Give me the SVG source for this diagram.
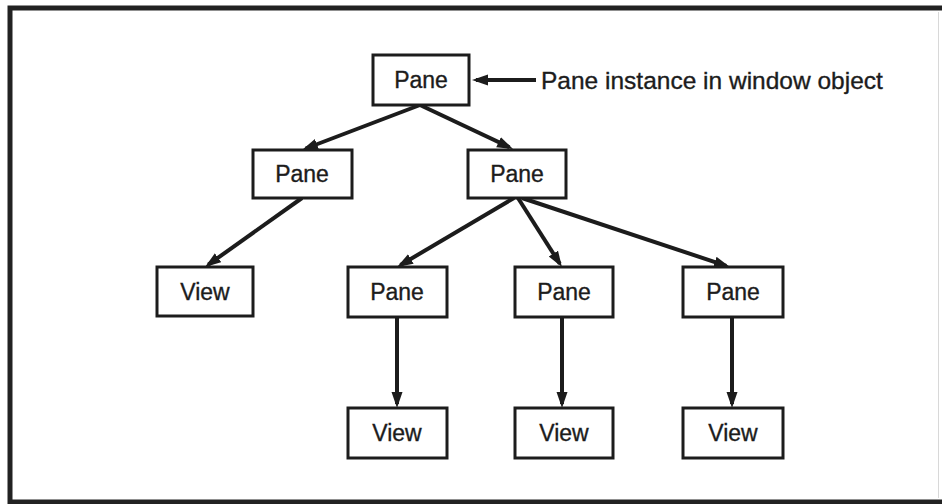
<svg xmlns="http://www.w3.org/2000/svg" width="942" height="504" viewBox="0 0 942 504">
  <style>
    .box { fill: #ffffff; stroke: #1c1c1c; stroke-width: 3; }
    .lbl { font-family: "Liberation Sans", Arial, Helvetica, sans-serif; font-size: 23px; fill: #1c1c1c; stroke: #1c1c1c; stroke-width: 0.35; }
    .note { font-size: 24.5px; }
    .mid { text-anchor: middle; }
    .edge { stroke: #1c1c1c; stroke-width: 4; fill: none; marker-end: url(#head); }
  </style>
  <defs>
    <marker id="head" markerUnits="userSpaceOnUse" markerWidth="17" markerHeight="12" refX="12" refY="5.5" orient="auto">
      <path d="M0,0 L16,5.5 L0,11 Z" fill="#1c1c1c"/>
    </marker>
  </defs>

  <rect width="942" height="504" fill="#ffffff"/>
  <!-- outer frame; its right side runs off the sheet -->
  <path d="M944,8 H10 V502 H944" fill="none" stroke="#222222" stroke-width="5"/>
  <line x1="938.5" y1="12" x2="938.5" y2="498" stroke="#d8d8d8" stroke-width="1"/>

  <!-- connectors -->
  <g id="connectors">
    <line class="edge" x1="536" y1="80" x2="476" y2="80"/>
    <line class="edge" x1="420" y1="105" x2="305.7" y2="148.5"/>
    <line class="edge" x1="420" y1="105" x2="509.4" y2="147.3"/>
    <line class="edge" x1="302" y1="198" x2="208.3" y2="264.7"/>
    <line class="edge" x1="514" y1="198" x2="400.5" y2="265"/>
    <line class="edge" x1="518" y1="198" x2="559.8" y2="263.7"/>
    <line class="edge" x1="522" y1="198" x2="726.2" y2="265.8"/>
    <line class="edge" x1="397" y1="317" x2="397" y2="404"/>
    <line class="edge" x1="562" y1="317" x2="562" y2="404"/>
    <line class="edge" x1="732" y1="317" x2="732" y2="404"/>
  </g>

  <!-- root pane -->
  <g id="pane-root">
    <rect class="box" x="373" y="55" width="96" height="50"/>
    <text class="lbl mid" x="421" y="88">Pane</text>
  </g>
  <g id="note">
    <text class="lbl note" x="541" y="89">Pane instance in window object</text>
  </g>

  <!-- second level -->
  <g id="pane-a">
    <rect class="box" x="253" y="150" width="99" height="48"/>
    <text class="lbl mid" x="302" y="182">Pane</text>
  </g>
  <g id="pane-b">
    <rect class="box" x="468" y="150" width="98" height="48"/>
    <text class="lbl mid" x="517" y="182">Pane</text>
  </g>

  <!-- third level -->
  <g id="view-a">
    <rect class="box" x="157" y="267" width="96" height="49"/>
    <text class="lbl mid" x="205" y="300">View</text>
  </g>
  <g id="pane-b1">
    <rect class="box" x="348" y="267" width="99" height="50"/>
    <text class="lbl mid" x="397" y="300">Pane</text>
  </g>
  <g id="pane-b2">
    <rect class="box" x="515" y="267" width="98" height="50"/>
    <text class="lbl mid" x="564" y="300">Pane</text>
  </g>
  <g id="pane-b3">
    <rect class="box" x="683" y="267" width="100" height="50"/>
    <text class="lbl mid" x="733" y="300">Pane</text>
  </g>

  <!-- leaf views -->
  <g id="view-b1">
    <rect class="box" x="348" y="408" width="99" height="50"/>
    <text class="lbl mid" x="397" y="441">View</text>
  </g>
  <g id="view-b2">
    <rect class="box" x="515" y="408" width="98" height="50"/>
    <text class="lbl mid" x="564" y="441">View</text>
  </g>
  <g id="view-b3">
    <rect class="box" x="683" y="408" width="100" height="50"/>
    <text class="lbl mid" x="733" y="441">View</text>
  </g>
</svg>
